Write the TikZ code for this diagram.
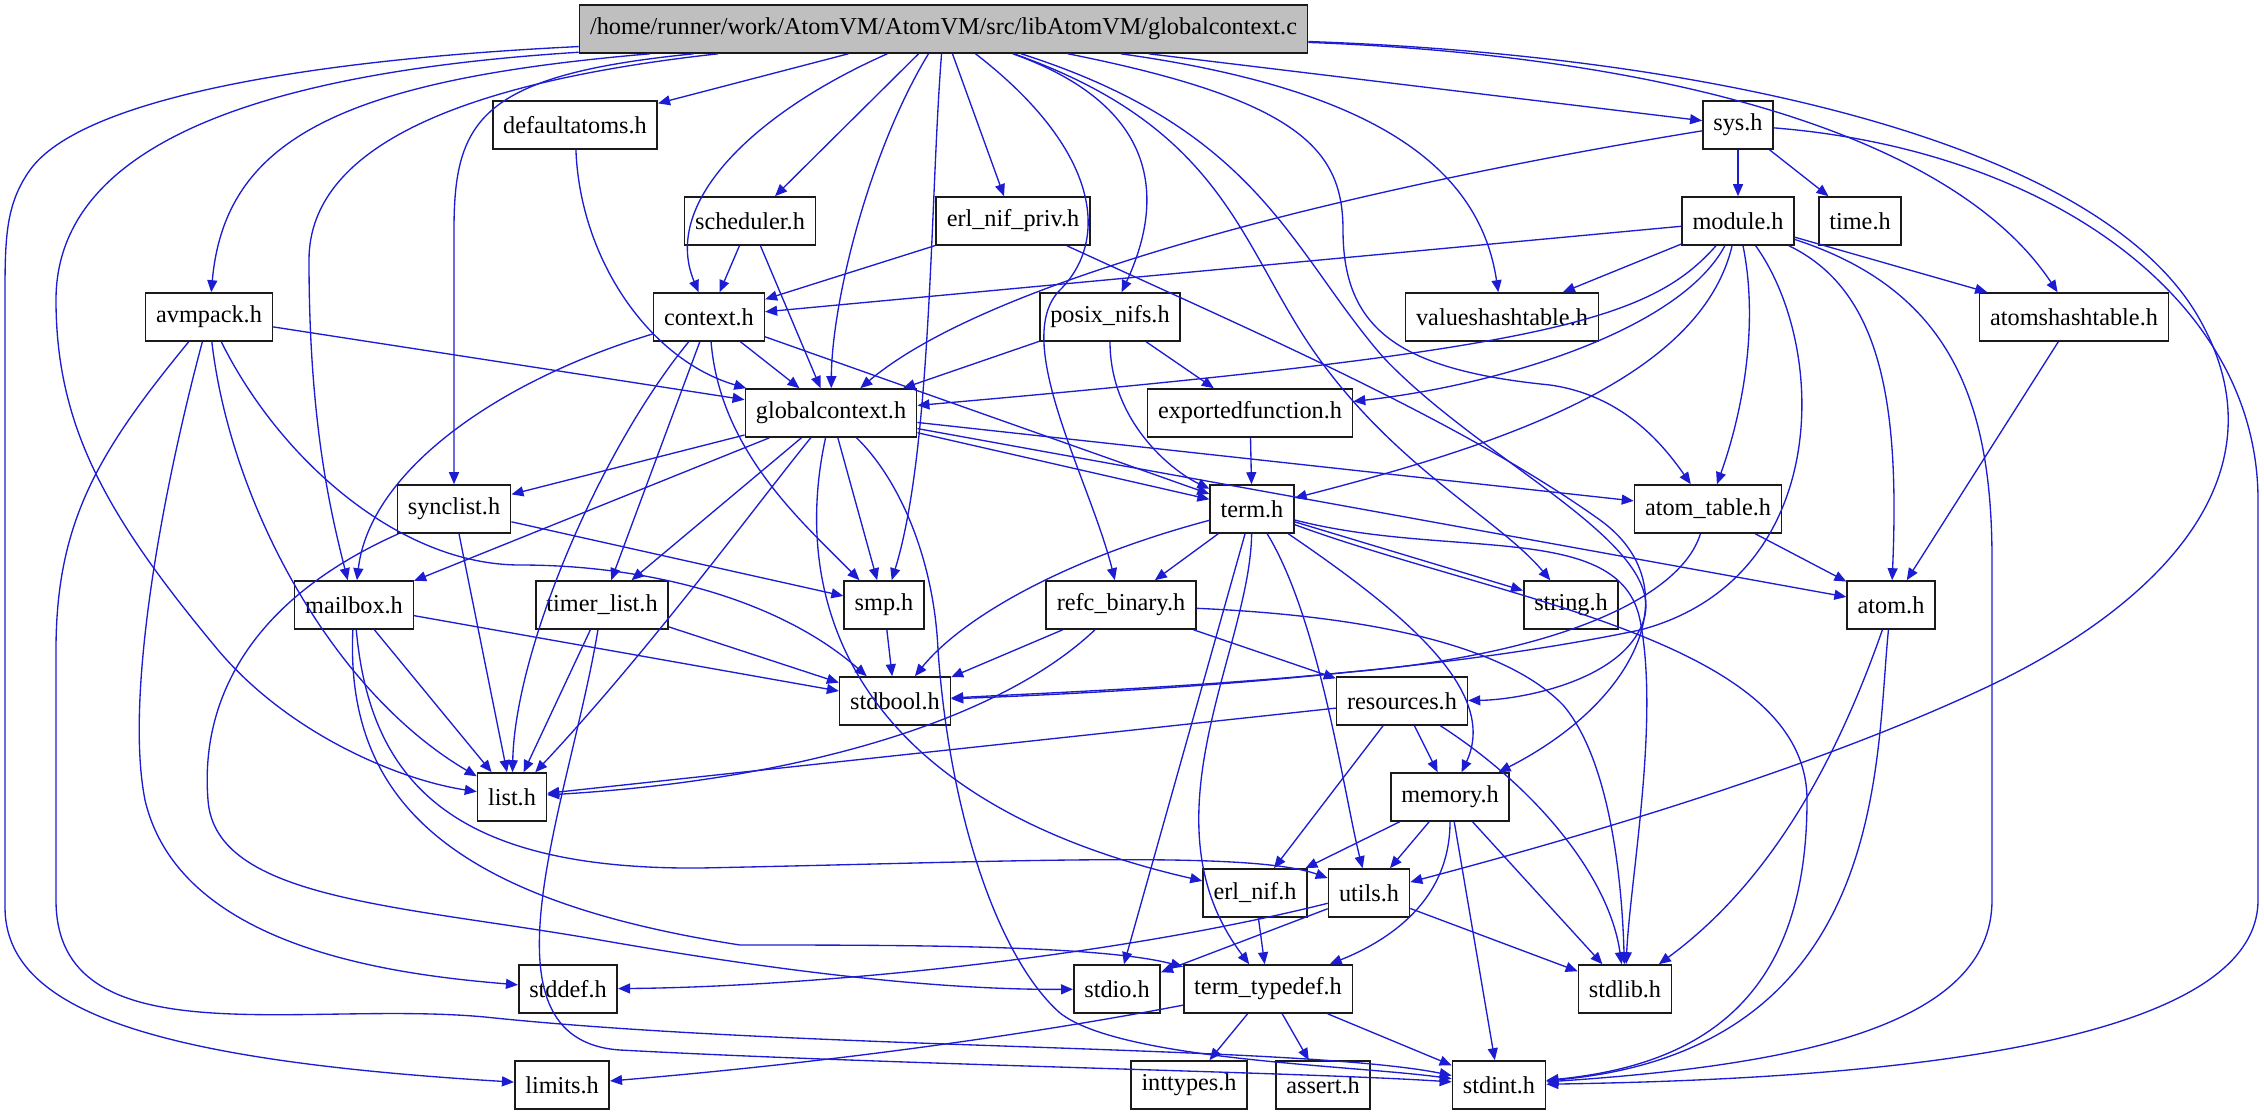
\documentclass[tikz,border=0pt]{standalone}
\usepackage{fontspec}
\setmainfont{Liberation Serif}
\newfontfamily\graphfont{Liberation Serif}
\usetikzlibrary{arrows.meta}
\definecolor{IncEdge}{HTML}{1C1CD2}
\definecolor{IncBorder}{HTML}{1A1A1A}
\definecolor{IncRoot}{HTML}{BFBFBF}

\begin{document}
\begin{tikzpicture}[x=0.01cm,y=-0.01cm,
  hfile/.style={rectangle,draw=IncBorder,fill=white,line width=0.45pt,inner xsep=1.05mm,inner ysep=0pt,minimum height=4.8mm,font=\graphfont\fontsize{6.9}{8}\selectfont},
  srcfile/.style={hfile,fill=IncRoot},
  incl/.style={-{Triangle[length=1.2mm,width=1mm]},draw=IncEdge,line width=0.38pt}
]
\useasboundingbox (0,0) rectangle (2264,1115);
\node[srcfile] (root) at (943.5,29) {/home/runner/work/AtomVM/AtomVM/src/libAtomVM/globalcontext.c};
\node[hfile] (defaultatoms) at (575,125) {defaultatoms.h};
\node[hfile] (sys) at (1738,125) {sys.h};
\node[hfile] (scheduler) at (750,221) {scheduler.h};
\node[hfile] (erlnifpriv) at (1013,221) {erl\_nif\_priv.h};
\node[hfile] (module) at (1738,221) {module.h};
\node[hfile] (time) at (1860,221) {time.h};
\node[hfile] (avmpack) at (209,317) {avmpack.h};
\node[hfile] (context) at (709,317) {context.h};
\node[hfile] (posixnifs) at (1110,317) {posix\_nifs.h};
\node[hfile] (valueshashtable) at (1502,317) {valueshashtable.h};
\node[hfile] (atomshashtable) at (2074,317) {atomshashtable.h};
\node[hfile] (globalcontext) at (831,413) {globalcontext.h};
\node[hfile] (exportedfunction) at (1250,413) {exportedfunction.h};
\node[hfile] (synclist) at (454,509) {synclist.h};
\node[hfile] (term) at (1252,509) {term.h};
\node[hfile] (atomtable) at (1708,509) {atom\_table.h};
\node[hfile] (mailbox) at (354,605) {mailbox.h};
\node[hfile] (timerlist) at (602,605) {timer\_list.h};
\node[hfile] (smp) at (884,605) {smp.h};
\node[hfile] (refcbinary) at (1121,605) {refc\_binary.h};
\node[hfile] (string) at (1571,605) {string.h};
\node[hfile] (atom) at (1891,605) {atom.h};
\node[hfile] (stdbool) at (895,701) {stdbool.h};
\node[hfile] (resources) at (1402,701) {resources.h};
\node[hfile] (list) at (512,797) {list.h};
\node[hfile] (memory) at (1450,797) {memory.h};
\node[hfile] (erlnif) at (1255,893) {erl\_nif.h};
\node[hfile] (utils) at (1369,893) {utils.h};
\node[hfile] (stddef) at (568,989) {stddef.h};
\node[hfile] (stdio) at (1117,989) {stdio.h};
\node[hfile] (termtypedef) at (1268,989) {term\_typedef.h};
\node[hfile] (stdlib) at (1625,989) {stdlib.h};
\node[hfile] (limits) at (562,1085) {limits.h};
\node[hfile] (inttypes) at (1189,1085) {inttypes.h};
\node[hfile] (assert) at (1323,1085) {assert.h};
\node[hfile] (stdint) at (1499,1085) {stdint.h};
\draw[incl] (root) .. controls (300,60) and (80,100) .. (30,170) .. controls (5,205) and (5,240) .. (5,300) -- (5,907) .. controls (5,1010) and (150,1060) .. (limits);
\draw[incl] (root) .. controls (300,70) and (56,130) .. (56,300) .. controls (56,430) and (110,520) .. (218,650) .. controls (290,735) and (400,780) .. (list);
\draw[incl] (root) .. controls (340,80) and (225,140) .. (avmpack);
\draw[incl] (root) .. controls (480,75) and (454,120) .. (454,230) -- (synclist);
\draw[incl] (root) .. controls (480,80) and (309,140) .. (309,260) .. controls (309,420) and (330,510) .. (mailbox);
\draw[incl] (root) -- (defaultatoms);
\draw[incl] (root) .. controls (760,110) and (660,200) .. (context);
\draw[incl] (root) -- (scheduler);
\draw[incl] (root) .. controls (870,150) and (832,300) .. (globalcontext);
\draw[incl] (root) .. controls (930,200) and (932,450) .. (smp);
\draw[incl] (root) -- (erlnifpriv);
\draw[incl] (root) .. controls (1100,150) and (1110,240) .. (1060,290) .. controls (1010,340) and (1090,480) .. (refcbinary);
\draw[incl] (root) .. controls (1170,110) and (1160,210) .. (posixnifs);
\draw[incl] (root) .. controls (1230,130) and (1240,250) .. (1320,360) .. controls (1400,470) and (1500,520) .. (string);
\draw[incl] (root) .. controls (1260,130) and (1290,250) .. (1383,357) .. controls (1480,460) and (1660,540) .. (1645,615) .. controls (1630,680) and (1520,700) .. (resources);
\draw[incl] (root) .. controls (1300,100) and (1343,150) .. (1343,230) .. controls (1343,330) and (1400,370) .. (1550,385) .. controls (1620,395) and (1660,440) .. (atomtable);
\draw[incl] (root) -- (sys);
\draw[incl] (root) .. controls (1380,90) and (1480,170) .. (valueshashtable);
\draw[incl] (root) .. controls (1650,55) and (1950,130) .. (atomshashtable);
\draw[incl] (root) .. controls (1700,55) and (2100,140) .. (2200,320) .. controls (2290,480) and (2150,610) .. (1987,687) .. controls (1800,775) and (1550,845) .. (utils);
\draw[incl] (defaultatoms) .. controls (580,260) and (650,360) .. (globalcontext);
\draw[incl] (sys) -- (module);
\draw[incl] (sys) -- (time);
\draw[incl] (sys) .. controls (1400,180) and (1000,270) .. (globalcontext);
\draw[incl] (sys) .. controls (2050,150) and (2258,300) .. (2258,500) -- (2258,900) .. controls (2258,1060) and (1800,1080) .. (stdint);
\draw[incl] (scheduler) -- (context);
\draw[incl] (scheduler) -- (globalcontext);
\draw[incl] (erlnifpriv) -- (context);
\draw[incl] (erlnifpriv) .. controls (1250,330) and (1460,420) .. (1600,520) .. controls (1690,585) and (1640,700) .. (memory);
\draw[incl] (avmpack) -- (globalcontext);
\draw[incl] (avmpack) .. controls (280,460) and (400,565) .. (520,565) .. controls (650,565) and (780,600) .. (stdbool);
\draw[incl] (avmpack) .. controls (230,500) and (330,690) .. (list);
\draw[incl] (avmpack) .. controls (160,500) and (125,700) .. (145,800) .. controls (180,950) and (400,975) .. (stddef);
\draw[incl] (avmpack) .. controls (100,450) and (56,520) .. (56,650) -- (56,900) .. controls (56,1060) and (300,1000) .. (485,1017) .. controls (800,1050) and (1300,1045) .. (stdint);
\draw[incl] (context) -- (globalcontext);
\draw[incl] (context) -- (term);
\draw[incl] (context) .. controls (500,380) and (370,470) .. (mailbox);
\draw[incl] (context) .. controls (600,450) and (515,650) .. (list);
\draw[incl] (context) -- (timerlist);
\draw[incl] (context) .. controls (720,450) and (800,520) .. (smp);
\draw[incl] (posixnifs) -- (globalcontext);
\draw[incl] (posixnifs) -- (exportedfunction);
\draw[incl] (posixnifs) .. controls (1110,420) and (1170,470) .. (term);
\draw[incl] (exportedfunction) -- (term);
\draw[incl] (module) -- (context);
\draw[incl] (module) -- (valueshashtable);
\draw[incl] (module) .. controls (1650,320) and (1550,350) .. (globalcontext);
\draw[incl] (module) .. controls (1680,330) and (1500,385) .. (exportedfunction);
\draw[incl] (module) .. controls (1760,330) and (1740,420) .. (atomtable);
\draw[incl] (module) .. controls (1700,380) and (1500,445) .. (term);
\draw[incl] (module) .. controls (1830,350) and (1830,580) .. (1640,630) .. controls (1400,680) and (1100,690) .. (stdbool);
\draw[incl] (module) -- (atomshashtable);
\draw[incl] (module) .. controls (1950,290) and (1992,400) .. (1992,560) -- (1992,900) .. controls (1992,1025) and (1800,1065) .. (stdint);
\draw[incl] (module) .. controls (1880,290) and (1900,400) .. (atom);
\draw[incl] (atomshashtable) -- (atom);
\draw[incl] (globalcontext) -- (synclist);
\draw[incl] (globalcontext) -- (mailbox);
\draw[incl] (globalcontext) -- (timerlist);
\draw[incl] (globalcontext) -- (smp);
\draw[incl] (globalcontext) -- (term);
\draw[incl] (globalcontext) -- (atomtable);
\draw[incl] (globalcontext) -- (atom);
\draw[incl] (globalcontext) .. controls (760,500) and (650,650) .. (list);
\draw[incl] (globalcontext) .. controls (790,600) and (850,800) .. (erlnif);
\draw[incl] (globalcontext) .. controls (900,480) and (934,560) .. (938,650) .. controls (950,820) and (1000,960) .. (1060,1013) .. controls (1120,1060) and (1350,1065) .. (stdint);
\draw[incl] (synclist) -- (list);
\draw[incl] (synclist) -- (smp);
\draw[incl] (synclist) .. controls (250,600) and (200,700) .. (208,800) .. controls (215,900) and (400,905) .. (600,940) .. controls (800,975) and (950,990) .. (stdio);
\draw[incl] (mailbox) -- (list);
\draw[incl] (mailbox) -- (stdbool);
\draw[incl] (mailbox) .. controls (370,780) and (450,870) .. (700,868) .. controls (1000,862) and (1250,850) .. (utils);
\draw[incl] (mailbox) .. controls (345,800) and (450,900) .. (740,945) .. controls (900,945) and (1100,945) .. (termtypedef);
\draw[incl] (timerlist) -- (list);
\draw[incl] (timerlist) -- (stdbool);
\draw[incl] (timerlist) .. controls (570,800) and (470,1040) .. (620,1050) .. controls (900,1065) and (1300,1072) .. (stdint);
\draw[incl] (smp) -- (stdbool);
\draw[incl] (refcbinary) -- (stdbool);
\draw[incl] (refcbinary) -- (resources);
\draw[incl] (refcbinary) .. controls (1000,720) and (800,780) .. (list);
\draw[incl] (refcbinary) .. controls (1350,615) and (1500,640) .. (1563,705) .. controls (1610,760) and (1622,880) .. (stdlib);
\draw[incl] (resources) -- (list);
\draw[incl] (resources) -- (erlnif);
\draw[incl] (resources) -- (memory);
\draw[incl] (resources) .. controls (1540,790) and (1610,880) .. (stdlib);
\draw[incl] (memory) -- (erlnif);
\draw[incl] (memory) -- (utils);
\draw[incl] (memory) -- (stdint);
\draw[incl] (memory) -- (stdlib);
\draw[incl] (memory) .. controls (1450,900) and (1390,940) .. (termtypedef);
\draw[incl] (erlnif) -- (termtypedef);
\draw[incl] (utils) -- (stdio);
\draw[incl] (utils) -- (stdlib);
\draw[incl] (utils) .. controls (1100,960) and (800,987) .. (stddef);
\draw[incl] (termtypedef) -- (inttypes);
\draw[incl] (termtypedef) -- (assert);
\draw[incl] (termtypedef) -- (stdint);
\draw[incl] (termtypedef) .. controls (1000,1040) and (800,1065) .. (limits);
\draw[incl] (term) -- (refcbinary);
\draw[incl] (term) -- (stdio);
\draw[incl] (term) -- (string);
\draw[incl] (term) .. controls (1060,560) and (960,620) .. (stdbool);
\draw[incl] (term) .. controls (1250,650) and (1140,820) .. (termtypedef);
\draw[incl] (term) .. controls (1320,620) and (1345,800) .. (utils);
\draw[incl] (term) .. controls (1400,610) and (1500,690) .. (memory);
\draw[incl] (term) .. controls (1450,560) and (1620,520) .. (1640,620) .. controls (1660,720) and (1630,880) .. (stdlib);
\draw[incl] (term) .. controls (1500,600) and (1807,640) .. (1807,800) .. controls (1807,1000) and (1700,1065) .. (stdint);
\draw[incl] (atomtable) -- (atom);
\draw[incl] (atomtable) .. controls (1680,600) and (1550,655) .. (1350,672) .. controls (1200,688) and (1050,695) .. (stdbool);
\draw[incl] (atom) .. controls (1830,780) and (1760,890) .. (stdlib);
\draw[incl] (atom) .. controls (1875,760) and (1890,1050) .. (stdint);
\end{tikzpicture}
\end{document}
